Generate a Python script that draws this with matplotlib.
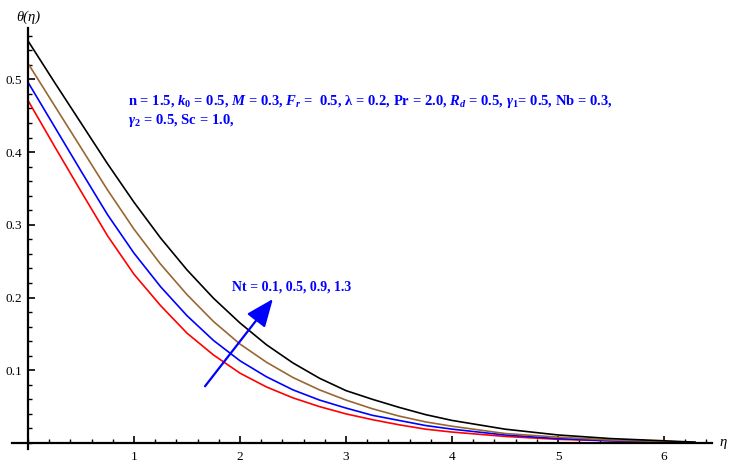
"""Temperature profile theta(eta) for several Nt values."""
import matplotlib
matplotlib.use("Agg")
import matplotlib.pyplot as plt
from matplotlib.ticker import MultipleLocator

plt.rcParams["font.family"] = ["Liberation Serif", "DejaVu Serif"]
plt.rcParams["mathtext.fontset"] = "custom"
plt.rcParams["mathtext.rm"] = "Liberation Serif:bold"
plt.rcParams["mathtext.it"] = "Liberation Serif:italic:bold"
plt.rcParams["mathtext.bf"] = "Liberation Serif:bold"

# values
eta = [0.0, 0.25, 0.5, 0.75, 1.0, 1.25, 1.5, 1.75, 2.0, 2.25, 2.5, 2.75,
       3.0, 3.25, 3.5, 3.75, 4.0, 4.5, 5.0, 5.5, 6.0, 6.3]
theta_nt01 = [0.471, 0.408, 0.346, 0.285, 0.232, 0.189, 0.151, 0.121, 0.096,
              0.077, 0.062, 0.050, 0.040, 0.032, 0.025, 0.019, 0.015, 0.009,
              0.005, 0.003, 0.0015, 0.0005]
theta_nt05 = [0.496, 0.435, 0.374, 0.314, 0.261, 0.215, 0.175, 0.141, 0.113,
              0.091, 0.073, 0.059, 0.048, 0.038, 0.031, 0.024, 0.019, 0.011,
              0.006, 0.003, 0.0017, 0.0006]
theta_nt09 = [0.522, 0.464, 0.406, 0.348, 0.294, 0.246, 0.204, 0.167, 0.136,
              0.111, 0.090, 0.073, 0.059, 0.047, 0.037, 0.029, 0.023, 0.013,
              0.008, 0.004, 0.002, 0.0008]
theta_nt13 = [0.553, 0.496, 0.440, 0.384, 0.331, 0.282, 0.238, 0.199, 0.165,
              0.135, 0.110, 0.089, 0.072, 0.060, 0.049, 0.039, 0.031, 0.019,
              0.011, 0.006, 0.003, 0.001]

series = [theta_nt01, theta_nt05, theta_nt09, theta_nt13]
colors = ["#ff0000", "#0000ff", "#996633", "#000000"]

BLUE = "#0000ff"

fig = plt.figure(figsize=(7.29, 4.67), dpi=100)
ax = fig.add_axes([0.0166, 0.039, 0.9597, 0.90])

for y, c in zip(series, colors):
    ax.plot(eta, y, color=c, lw=1.2, solid_capstyle="butt")

ax.set_xlim(-0.15, 6.45)
ax.set_ylim(-0.008, 0.57)

# Mathematica style axes through the origin
for s in ("top", "right"):
    ax.spines[s].set_visible(False)
ax.spines["left"].set_position(("data", 0))
ax.spines["bottom"].set_position(("data", 0))
ax.spines["left"].set_linewidth(1.6)
ax.spines["bottom"].set_linewidth(1.6)

ax.xaxis.set_major_locator(MultipleLocator(1))
ax.xaxis.set_minor_locator(MultipleLocator(0.2))
ax.yaxis.set_major_locator(MultipleLocator(0.1))
ax.yaxis.set_minor_locator(MultipleLocator(0.02))
ax.set_xticks([1, 2, 3, 4, 5, 6])
ax.set_xticklabels(["1", "2", "3", "4", "5", "6"])
ax.set_yticks([0.1, 0.2, 0.3, 0.4, 0.5])
ax.set_yticklabels(["0.1", "0.2", "0.3", "0.4", "0.5"])
ax.tick_params(axis="both", which="major", direction="in", length=5,
               width=1.2, labelsize=9.5)
ax.tick_params(axis="both", which="minor", direction="in", length=3,
               width=1.0)
ax.tick_params(axis="x", which="major", pad=6)
ax.tick_params(axis="y", which="major", pad=4)

# axis labels
ax.text(0, 0.586, "θ(η)", ha="center", va="center", fontsize=10.5,
        fontstyle="italic", clip_on=False)
ax.text(6.52, 0.0, "η", ha="left", va="center", fontsize=10.5,
        fontstyle="italic", clip_on=False)

# parameter annotation
line1 = (r"n = 1.5, $k_0$ = 0.5, $M$ = 0.3, $F_r$ =  0.5, λ = 0.2, "
         r"Pr = 2.0, $R_d$ = 0.5, $\gamma_1$= 0.5, Nb = 0.3,")
line2 = r"$\gamma_2$ = 0.5, Sc = 1.0,"
ax.text(0.94, 0.470, line1, color=BLUE, fontsize=10.5, fontweight="bold",
        ha="left", va="center")
ax.text(0.94, 0.444, line2, color=BLUE, fontsize=10.5, fontweight="bold",
        ha="left", va="center")

# Nt arrow
ax.annotate("", xy=(2.31, 0.198), xytext=(1.67, 0.078),
            arrowprops=dict(arrowstyle="-|>,head_length=1.7,head_width=0.7",
                            color=BLUE, lw=1.6, shrinkA=0, shrinkB=0))
ax.text(1.92, 0.215, "Nt = 0.1, 0.5, 0.9, 1.3", color=BLUE, fontsize=10,
        fontweight="bold", ha="left", va="center")

fig.savefig("out.png", dpi=100)
